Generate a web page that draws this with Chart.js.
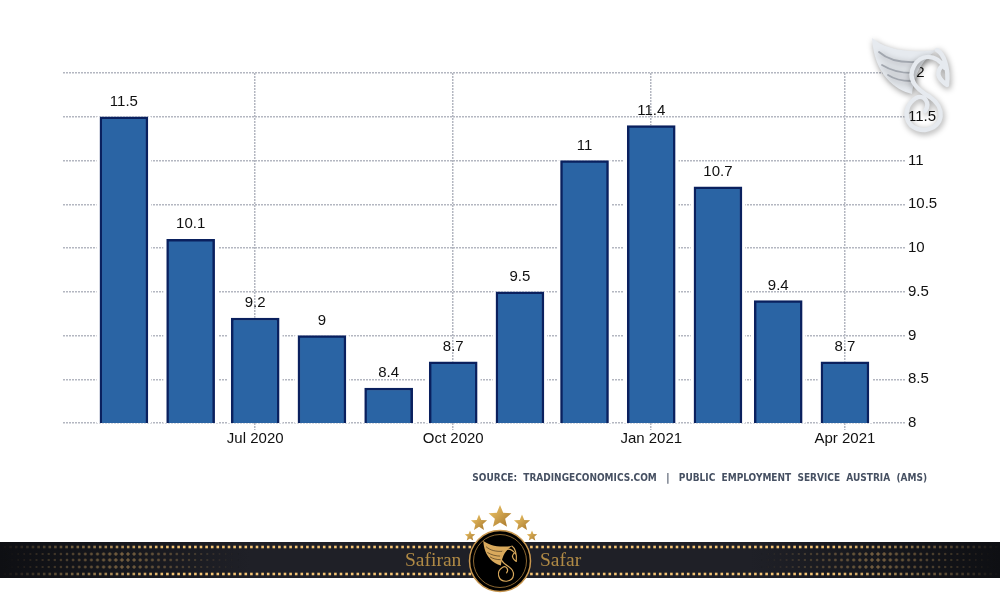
<!DOCTYPE html>
<html>
<head>
<meta charset="utf-8">
<title>Austria unemployment rate</title>
<script src="https://cdn.jsdelivr.net/npm/chart.js@4/dist/chart.umd.min.js"></script>
<style>
  html, body { margin: 0; padding: 0; background: #fff; }
  canvas { display: block; }
</style>
</head>
<body>
<canvas id="myChart" width="1000" height="600"></canvas>
<script>
// days counted from 1 May 2020, the source chart sits on a real time axis
var monthDays = [0, 31, 61, 92, 123, 153, 184, 214, 245, 276, 304, 335];
var rateValues = [11.5, 10.1, 9.2, 9, 8.4, 8.7, 9.5, 11, 11.4, 10.7, 9.4, 8.7];
var tickDays = [61, 153, 245, 335];
var tickLabels = ['Jul 2020', 'Oct 2020', 'Jan 2021', 'Apr 2021'];
var sourceText = 'SOURCE:  TRADINGECONOMICS.COM   |   PUBLIC  EMPLOYMENT  SERVICE  AUSTRIA  (AMS)';

var gridColor = '#b4b7c1';
var fontName = '"Liberation Sans", Arial, sans-serif';

function toPoints(days, values) {
  var points = [];
  for (var i = 0; i < days.length; i++) {
    points.push({ x: days[i], y: values[i] });
  }
  return points;
}

function drawStar(ctx, cx, cy, r) {
  var grad = ctx.createLinearGradient(cx - r, cy - r, cx + r, cy + r);
  grad.addColorStop(0, '#f3cb6c');
  grad.addColorStop(1, '#a06f26');
  ctx.beginPath();
  for (var i = 0; i < 10; i++) {
    var rad = i % 2 === 0 ? r : r * 0.45;
    var ang = -Math.PI / 2 + i * Math.PI / 5;
    ctx.lineTo(cx + rad * Math.cos(ang), cy + rad * Math.sin(ang));
  }
  ctx.closePath();
  ctx.fillStyle = grad;
  ctx.fill();
}

// same wing + S mark is used twice: silver at the top, gold inside the badge
function drawMark(ctx, ox, oy, k, fill, line, width) {
  ctx.save();
  ctx.translate(ox, oy);
  ctx.scale(k, k);
  ctx.lineCap = 'round';
  ctx.lineJoin = 'round';

  // wing outline
  ctx.beginPath();
  ctx.moveTo(872, 38);
  ctx.bezierCurveTo(884, 48, 905, 54, 937, 50);
  ctx.bezierCurveTo(925, 58, 915, 70, 912, 94);
  ctx.bezierCurveTo(895, 90, 874, 74, 872, 38);
  ctx.closePath();
  ctx.fillStyle = fill;
  ctx.fill();

  // feathers
  ctx.strokeStyle = line;
  ctx.lineWidth = width * 0.4;
  ctx.beginPath();
  ctx.moveTo(879, 52);
  ctx.bezierCurveTo(888, 60, 900, 63, 917, 62);
  ctx.moveTo(882, 65);
  ctx.bezierCurveTo(890, 70, 900, 73, 912, 73);
  ctx.moveTo(888, 75);
  ctx.bezierCurveTo(894, 79, 902, 81, 911, 81);
  ctx.stroke();

  // S body and head
  ctx.strokeStyle = fill;
  ctx.lineWidth = width;
  ctx.beginPath();
  ctx.moveTo(945, 68);
  ctx.bezierCurveTo(935, 52, 920, 55, 914, 66);
  ctx.bezierCurveTo(906, 80, 918, 90, 930, 97);
  ctx.bezierCurveTo(945, 107, 945, 127, 925, 130);
  ctx.bezierCurveTo(905, 131, 900, 108, 916, 98);
  ctx.bezierCurveTo(924, 94, 931, 103, 925, 111);
  ctx.moveTo(937, 50);
  ctx.bezierCurveTo(944, 54, 949, 68, 947, 85);
  ctx.bezierCurveTo(940, 80, 935, 74, 941, 67);
  ctx.stroke();
  ctx.restore();
}

function drawBanner(ctx) {
  var band = ctx.createLinearGradient(0, 0, 1000, 0);
  band.addColorStop(0, '#0e0f13');
  band.addColorStop(0.25, '#1f2027');
  band.addColorStop(0.75, '#1f2027');
  band.addColorStop(1, '#0e0f13');
  ctx.fillStyle = band;
  ctx.fillRect(0, 542, 1000, 36);

  // halftone patches at both ends, small crosses
  var rows = [554, 560, 567];
  for (var r = 0; r < rows.length; r++) {
    for (var x = 6; x < 250; x += 6.1) {
      var s = Math.max(0, 1 - Math.abs(x - 122) / 120);
      var size = 1 + 3.2 * s;
      ctx.fillStyle = 'rgba(190, 150, 90, ' + (0.34 * s) + ')';
      ctx.fillRect(x - size / 2, rows[r] - 1, size, 2);
      ctx.fillRect(x - 1, rows[r] - size / 2, 2, size);
      ctx.fillRect(1000 - x - size / 2, rows[r] - 1, size, 2);
      ctx.fillRect(1000 - x - 1, rows[r] - size / 2, 2, size);
    }
  }

  // two rows of gold dots along the edges
  for (var d = 5; d < 1000; d += 5.6) {
    var edge = Math.min(d, 1000 - d);
    ctx.fillStyle = 'rgba(245, 196, 116, ' + Math.min(1, edge / 170) + ')';
    ctx.fillRect(d - 1.3, 545.7, 2.6, 2.6);
    ctx.fillRect(d - 1.3, 572.7, 2.6, 2.6);
  }

  // badge
  ctx.beginPath();
  ctx.arc(500, 561, 30.5, 0, Math.PI * 2);
  ctx.fillStyle = '#000';
  ctx.fill();
  ctx.strokeStyle = '#c9974f';
  ctx.lineWidth = 1.5;
  ctx.stroke();
  ctx.beginPath();
  ctx.arc(500, 561, 26.5, 0, Math.PI * 2);
  ctx.strokeStyle = '#8a6631';
  ctx.lineWidth = 1;
  ctx.stroke();
  drawMark(ctx, 500 - 910 * 0.44, 561 - 84 * 0.44, 0.44, '#d9a95c', '#000', 2.6);

  drawStar(ctx, 500, 517, 12);
  drawStar(ctx, 479, 523, 8.5);
  drawStar(ctx, 522, 523, 8.5);
  drawStar(ctx, 470, 536, 5.5);
  drawStar(ctx, 532, 536, 5.5);

  ctx.font = '19.5px "Liberation Serif", serif';
  ctx.fillStyle = '#b08a45';
  ctx.textAlign = 'left';
  ctx.textBaseline = 'middle';
  ctx.fillText('Safiran', 405, 561);
  ctx.fillText('Safar', 540, 561);
}

var valueLabels = {
  id: 'valueLabels',
  afterDatasetsDraw: function(chart) {
    var ctx = chart.ctx;
    var bars = chart.getDatasetMeta(0).data;
    ctx.save();
    ctx.font = '15px ' + fontName;
    ctx.fillStyle = '#111';
    ctx.textAlign = 'center';
    ctx.textBaseline = 'bottom';
    for (var i = 0; i < bars.length; i++) {
      ctx.fillText(String(rateValues[i]), bars[i].x, bars[i].y - 7.5);
    }
    ctx.restore();
  }
};

var decorations = {
  id: 'decorations',
  afterDraw: function(chart) {
    var ctx = chart.ctx;
    ctx.save();
    ctx.font = 'bold 10px "DejaVu Sans Condensed", "DejaVu Sans", sans-serif';
    ctx.fillStyle = '#465062';
    ctx.textAlign = 'right';
    ctx.textBaseline = 'middle';
    ctx.fillText(sourceText, 927, 478);

    // silver logo over the top right corner
    ctx.save();
    ctx.shadowColor = 'rgba(0, 0, 0, 0.4)';
    ctx.shadowBlur = 6;
    ctx.shadowOffsetX = 1;
    ctx.shadowOffsetY = 2;
    drawMark(ctx, 0, 0, 1, '#e6eaef', '#a2a7af', 4.4);
    ctx.restore();

    drawBanner(ctx);
    ctx.restore();
  }
};

var myChart = new Chart(document.getElementById('myChart').getContext('2d'), {
  type: 'bar',
  data: {
    datasets: [
      {
        label: 'Unemployment rate',
        data: toPoints(monthDays, rateValues),
        backgroundColor: '#2a64a4',
        borderColor: '#0a205e',
        borderWidth: 2.5,
        borderSkipped: false,
        barThickness: 48,
        grouped: false,
        order: 1
      },
      {
        // white strip that keeps the grid lines away from the bars
        label: 'halo',
        data: toPoints(monthDays, rateValues),
        backgroundColor: '#ffffff',
        borderWidth: 0,
        barThickness: 54,
        grouped: false,
        order: 2
      }
    ]
  },
  plugins: [valueLabels, decorations],
  options: {
    responsive: false,
    animation: false,
    layout: { padding: { top: 73, left: 63, right: 0, bottom: 0 } },
    plugins: {
      legend: { display: false },
      tooltip: { enabled: false }
    },
    scales: {
      x: {
        type: 'linear',
        offset: false,
        min: -28.3,
        max: 362.9,
        afterBuildTicks: function(scale) {
          scale.ticks = tickDays.map(function(d) { return { value: d }; });
        },
        afterFit: function(scale) { scale.height = 177; },
        border: { display: false, dash: [2, 1] },
        grid: { offset: false, color: gridColor, lineWidth: 1.5, tickLength: 7, tickColor: gridColor, tickBorderDash: [2, 1] },
        ticks: {
          autoSkip: false,
          maxRotation: 0,
          padding: 0,
          color: '#111',
          font: { family: fontName, size: 15 },
          callback: function(value) {
            return tickLabels[tickDays.indexOf(value)];
          }
        }
      },
      y: {
        position: 'right',
        min: 8,
        max: 12,
        afterFit: function(scale) { scale.width = 95; },
        border: { display: false, dash: [2, 1] },
        grid: { color: gridColor, lineWidth: 1.5, drawTicks: false },
        ticks: {
          stepSize: 0.5,
          padding: 3,
          color: '#111',
          font: { family: fontName, size: 15 },
          callback: function(value) { return String(value); }
        }
      }
    }
  }
});
</script>
</body>
</html>
